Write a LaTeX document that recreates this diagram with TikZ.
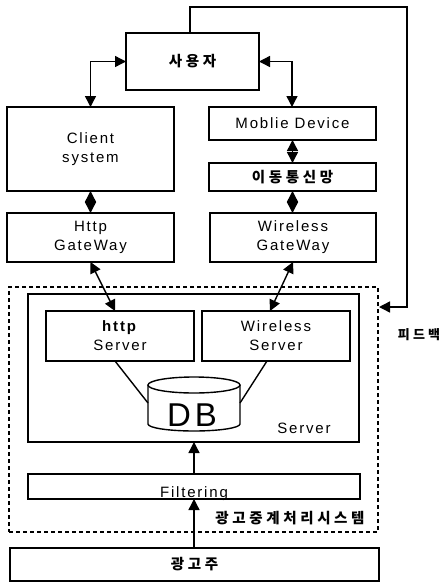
\documentclass[tikz,border=0pt]{standalone}
\usepackage{fontspec}
\setmainfont{Liberation Sans}[LetterSpace=12]
\newfontfamily\kr{Noto Sans CJK KR}[LetterSpace=25]
\usetikzlibrary{arrows.meta}
\begin{document}
\begin{tikzpicture}[x=1pt, y=-1pt,
  box/.style={draw, line width=1.4pt, inner sep=0pt, outer sep=0pt, align=center,
              font=\fontsize{15}{19}\selectfont},
  krtext/.style={font=\kr\bfseries\fontsize{14.5}{17}\selectfont},
  tip/.tip={Triangle[length=11pt,width=11pt]},
  dbl/.style={line width=1.4pt, tip-tip},
  single/.style={line width=1.4pt, -tip},
  plain/.style={line width=1.4pt},
]
\useasboundingbox (0,0) rectangle (447,582);

% user and client side
\node[box, minimum width=133pt, minimum height=57pt, krtext] (user) at (192.5,61.5) {사용자};
\node[box, minimum width=167pt, minimum height=84pt] (client) at (90.5,149) {Client\\system};
\node[box, minimum width=167pt, minimum height=33pt] (mobile) at (292.5,123.5) {Moblie Device};
\node[box, minimum width=167pt, minimum height=28pt, krtext] (net) at (292.5,177) {이동통신망};
\node[box, minimum width=167pt, minimum height=49pt] (httpgw) at (90.5,237.5) {Http\\GateWay};
\node[box, minimum width=166pt, minimum height=49pt] (wgw) at (293,237.5) {Wireless\\GateWay};

% relay system (dashed) with server block
\node[draw, dashed, dash pattern=on 4pt off 3pt, line width=1.1pt, minimum width=369pt,
      minimum height=245pt, inner sep=0pt, outer sep=0pt] (relay) at (193.5,409.5) {};
\node[box, minimum width=331pt, minimum height=148pt] (server) at (193.5,368) {};
\node[box, minimum width=148pt, minimum height=50pt] (https) at (120,336) {\textbf{http}\\Server};
\node[box, minimum width=148pt, minimum height=50pt] (ws) at (276,336) {Wireless\\Server};
\node[font=\fontsize{15}{19}\selectfont] (serverlabel) at (304,428) {Server};

% database cylinder
\draw[plain] (194,385) ellipse [x radius=46pt, y radius=8pt];
\draw[plain] (148,385) -- (148,424) arc[start angle=180, end angle=360, x radius=46pt, y radius=7pt] -- (240,385);
\coordinate (dbleft) at (148,403);
\coordinate (dbright) at (240,403);
\node[font=\fontsize{33}{33}\selectfont] (dblabel) at (192,415) {DB};

\node[box, minimum width=332pt, minimum height=25pt,
      label={[font=\fontsize{15}{19}\selectfont, yshift=-7pt]center:Filtering}] (filter) at (194,486.5) {};
\node[krtext] (relaylabel) at (290,518) {광고중계처리시스템};
\node[box, minimum width=369pt, minimum height=33pt, krtext] (adv) at (194.5,564.5) {광고주};

% feedback loop
\coordinate (fbtop) at (407,7);
\node[font=\kr\bfseries\fontsize{13}{15}\selectfont] (fblabel) at (419,335) {피드백};

% connectors
\draw[dbl] (user.west) -| (client.north);
\draw[dbl] (user.east) -| (mobile.north -| 292,0);
\draw[dbl] (client.south) -- (httpgw.north);
\draw[dbl] (mobile.south) -- (net.north);
\draw[dbl] (net.south) -- (net.south |- wgw.north);
\draw[dbl] (httpgw.south) -- ([xshift=-5pt]https.north);
\draw[dbl] (wgw.south) -- ([xshift=-6pt]ws.north);
\draw[plain] ([xshift=-5pt]https.south) -- (dbleft);
\draw[plain] ([xshift=-9pt]ws.south) -- (dbright);
\draw[single] (filter.north) -- (filter.north |- server.south);
\draw[single] (adv.north -| filter.north) -- (filter.south);
\draw[single] ([xshift=-2.5pt]user.north) |- (fbtop) |- ([yshift=102.5pt,xshift=1pt]relay.east);
\end{tikzpicture}
\end{document}
